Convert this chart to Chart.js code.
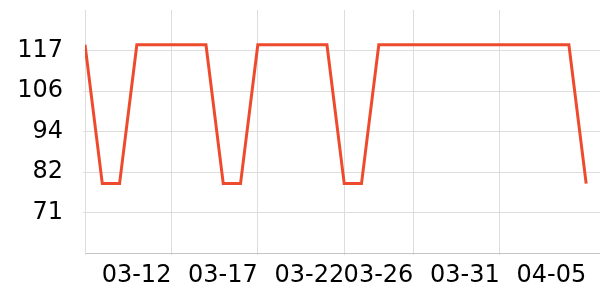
<!DOCTYPE html>
<html>
<head>
<meta charset="utf-8">
<style>
  html, body { margin: 0; padding: 0; background: #fff; overflow: hidden; }
  #wrap { width: 600px; height: 300px; }
</style>
</head>
<body>
<div id="wrap"><canvas id="chart"></canvas></div>
<script src="https://cdn.jsdelivr.net/npm/chart.js@4.4.3/dist/chart.umd.min.js"></script>
<script>
// 데이터
const dates = ['03-07','03-08','03-09','03-10','03-11','03-12','03-13','03-14','03-15','03-16',
  '03-17','03-18','03-19','03-20','03-21','03-22','03-23','03-24','03-25','03-26',
  '03-27','03-28','03-29','03-30','03-31','04-01','04-02','04-03','04-04','04-05'];
const values = [119,79,79,119,119,119,119,119,79,79,
  119,119,119,119,119,79,79,119,119,119,
  119,119,119,119,119,119,119,119,119,79];
const xTickLabels = ['03-12','03-17','03-22','03-26','03-31','04-05'];
const yTickLabels = [71,82,94,106,117];
const yMin = 59, yMax = 129;

const FONT = {family:'DejaVu Sans', size:24};
const GRID = '#dddddd';

// 축 범위: 마지막 날 뒤로 약간 여유
const xEnd = dates.length - 0.2;

const points = values.map((v,i)=>({x:i, y:v}));

new Chart(document.getElementById('chart'),{
  type:'line',
  data:{ datasets:[{
    data: points,
    borderColor:'#ee4b2e',
    borderWidth:3,
    pointRadius:0,
    tension:0,
    fill:false
  }]},
  options:{
    responsive:true,
    maintainAspectRatio:false,
    animation:false,
    layout:{ padding:{ top:10, right:0, left:0, bottom:0 } },
    plugins:{ legend:{display:false}, tooltip:{enabled:false} },
    scales:{
      x:{
        type:'linear',
        min:0,
        max:xEnd,
        afterBuildTicks: s=>{
          s.ticks = [0, ...xTickLabels.map(l=>dates.indexOf(l))].map(v=>({value:v}));
        },
        afterFit: s=>{ s.height = 47; s.paddingLeft = 0; s.paddingRight = 0; },
        ticks:{
          autoSkip:false, maxRotation:0, align:'end', padding:6,
          color:'#000', font:FONT,
          callback: v=> v===0 ? '' : dates[v]
        },
        grid:{
          tickLength:2,
          color: c=> (c.tick && c.tick.value===dates.length-1) ? 'rgba(0,0,0,0)' : GRID
        },
        border:{ color:'#c4c4c4' }
      },
      y:{
        min:yMin,
        max:yMax,
        afterBuildTicks: s=>{
          const step = (yMax-yMin)/(yTickLabels.length+1);
          s.ticks = yTickLabels.map((_,k)=>({value: yMin + (k+1)*step}));
        },
        afterFit: s=>{ s.width = 85; s.paddingTop = 0; s.paddingBottom = 0; },
        ticks:{
          padding:20, color:'#000', font:FONT,
          callback: (v,i)=> yTickLabels[i]
        },
        grid:{ tickLength:2, color:GRID },
        border:{ color:GRID }
      }
    }
  }
});
</script>
</body>
</html>
